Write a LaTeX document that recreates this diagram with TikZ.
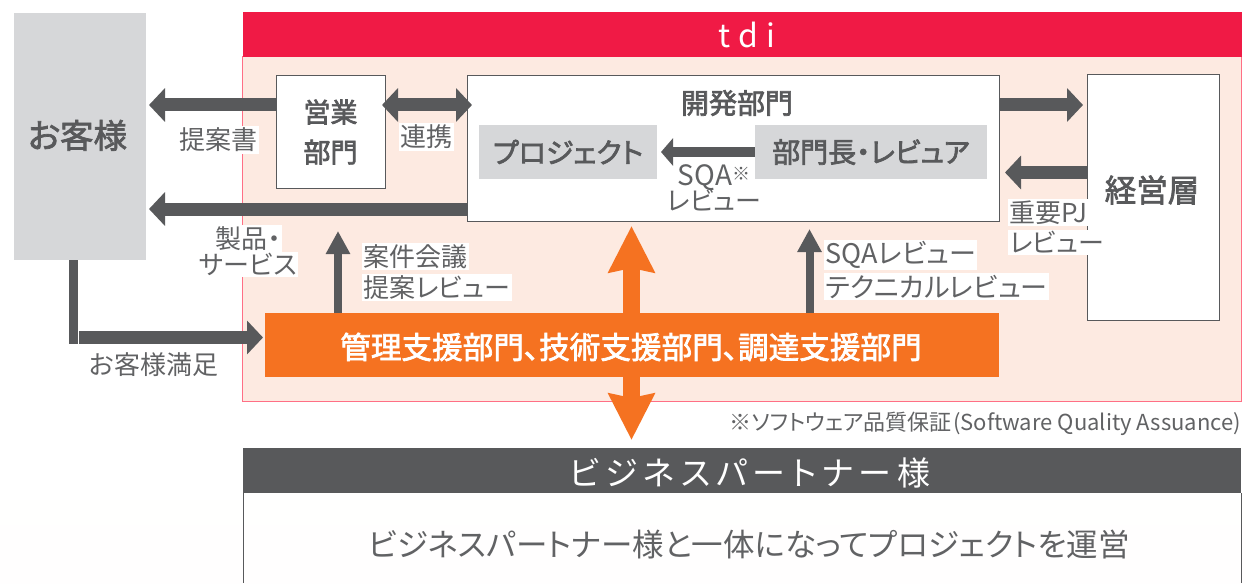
\documentclass[tikz,border=0pt]{standalone}
\usepackage{fontspec}
\usetikzlibrary{arrows.meta,calc}
\setmainfont{Noto Sans CJK JP}[RawFeature={+palt}]
\definecolor{dgray}{HTML}{58595B}
\definecolor{lblgray}{HTML}{616264}
\definecolor{lgray}{HTML}{D6D7D9}
\definecolor{tdired}{HTML}{F01A45}
\definecolor{panel}{HTML}{FDEAE1}
\definecolor{panelline}{HTML}{FF6F85}
\definecolor{orangebar}{HTML}{F57221}
\newcommand{\fs}[1]{\fontsize{#1}{#1}\selectfont}
\newcommand{\halo}[1]{{\setlength{\fboxsep}{1.5pt}\colorbox{white}{#1}}}
\newcommand{\med}[1]{\special{pdf:code q 2 Tr 0.7 w}#1\special{pdf:code 0 Tr Q}}
\tikzset{
  block/.style={rectangle,inner sep=0pt,outer sep=0pt,anchor=center},
  wbox/.style={block,draw=dgray,line width=1pt,fill=white},
  graybox/.style={block,fill=lgray},
  head/.style={text=dgray,font=\fs{27}},
  headb/.style={text=dgray,font=\fs{28}},
  lbl/.style={text=lblgray,font=\fs{26},inner sep=0pt,align=center},
  lblleft/.style={lbl,align=left,anchor=west},
  thick arrow/.style={draw=dgray,line width=13pt,-{Triangle[length=16pt,width=33pt]}},
  thick both/.style={draw=dgray,line width=13pt,{Triangle[length=16pt,width=33pt]}-{Triangle[length=16pt,width=33pt]}},
  thin arrow/.style={draw=dgray,line width=8pt,-{Triangle[length=23pt,width=23pt]}},
  mid arrow/.style={draw=dgray,line width=10pt,-{Triangle[length=12pt,width=27pt]}},
  orange arrow/.style={draw=orangebar,line width=17pt,-{Stealth[length=46pt,width=45pt,inset=4pt]}}
}
\begin{document}
\begin{tikzpicture}[x=1pt,y=-1pt]
\useasboundingbox (0,0) rectangle (1246,583);
% faint tint at the foot of the page
\shade[top color=white,bottom color=white!96!panel] (0,440) rectangle (1246,583);

% tdi panel
\node[block,draw=panelline,fill=panel,line width=1pt,minimum width=999pt,minimum height=345pt] (tdipanel) at (742,229) {};
\node[block,fill=tdired,minimum width=999pt,minimum height=45pt,text=white,font=\fs{32}\addfontfeature{LetterSpace=25}] (tdihead) at (742.5,34.5) {\hspace{9pt}\raisebox{-4pt}{tdi}};

% boxes
\node[block,fill=lgray,minimum width=132pt,minimum height=247pt,text=dgray,font=\fs{33.5}] (cust) at (80,136.5) {\hspace{-5pt}\raisebox{5pt}{\med{お客様}}};
\node[wbox,minimum width=109pt,minimum height=112pt,head,align=center] (eigyo) at (330.5,132) {\med{営業}\\[13pt]\med{部門}};
\node[wbox,minimum width=532pt,minimum height=145pt] (kaihatsu) at (733,148.5) {};
\node[headb] (kaihatsulabel) at (737,103) {\med{開発部門}};
\node[graybox,minimum width=178pt,minimum height=54pt,headb] (proj) at (568,152) {\med{プロジェクト}};
\node[graybox,minimum width=232pt,minimum height=54pt,headb] (bucho) at (871,152) {\med{部門長・レビュア}};
\node[wbox,minimum width=132pt,minimum height=245pt] (keiei) at (1153,197.5) {};
\node[text=dgray,font=\fs{31.5}] (keieilabel) at (1152,190) {\med{経営層}};

% free ends of connectors
\coordinate (custtipa) at (149,105);
\coordinate (custtipb) at (149,209);
\coordinate (reviewtipa) at (338,231);
\coordinate (reviewtipb) at (809.5,229);
\coordinate (orangetop) at (631.5,226);
\coordinate (orangebot) at (631.5,440);
\coordinate (satcorner) at (73.5,344);
\coordinate (satstart) at (79,337.5);

% connectors
\draw[thick arrow] ([yshift=27pt]eigyo.west) -- (custtipa);
\draw[thick arrow] (kaihatsu.west |- custtipb) -- (custtipb);
\draw[thick both] ([xshift=-3pt,yshift=27pt]eigyo.east) -- ([xshift=5pt]kaihatsu.west |- custtipa);
\draw[mid arrow] (bucho.west) -- ([xshift=4pt]proj.east);
\draw[thick arrow] (kaihatsu.east |- custtipa) -- ([xshift=-4pt]keiei.west |- custtipa);
\draw[thick arrow] (keiei.west |- 0,172.5) -- ([xshift=6pt]kaihatsu.east |- 0,172.5);
\draw[draw=dgray,line width=9pt] (cust.south -| satcorner) -- (satcorner);

% support bar
\node[block,fill=orangebar,minimum width=734pt,minimum height=64pt] (support) at (632,345) {};
\node[text=white,font=\fs{30.6},inner sep=0pt] (supportlabel) at (631,347) {\med{管理支援部門、技術支援部門、調達支援部門}};
\draw[thick arrow] (satstart) -- ([xshift=-2pt]support.west |- satstart);
\draw[thin arrow] (support.north -| reviewtipa) -- (reviewtipa);
\draw[thin arrow] (support.north -| reviewtipb) -- (reviewtipb);
\draw[orange arrow] (support.north -| orangetop) -- (orangetop);
\draw[orange arrow] (support.south -| orangebot) -- (orangebot);

% labels
\node[lbl] (lteian) at (218,140) {\halo{提案書}};
\node[lbl] (lrenkei) at (426,137) {\halo{連携}};
\node[lbl] (lsqa) at (714,188) {{\fs{28}SQA}{\fs{18}\raisebox{5pt}{※}}\\[-3pt]レビュー};
\node[lblleft,anchor=west] (ljuyo) at (1008,227) {\halo{重要PJ}\\[3pt]\halo{レビュー}};
\node[lbl] (lseihin) at (248,251) {\halo{製品・}\\[-1pt]\halo{サービス}};
\node[lblleft] (lanken) at (362,272) {\halo{案件会議}\\[3pt]\halo{提案レビュー}};
\node[lblleft,font=\fs{27}] (lsqar) at (824,270) {\halo{SQAレビュー}\\[2pt]\halo{テクニカルレビュー}};
\node[lbl] (lsat) at (154,365) {お客様満足};
\node[text=lblgray,font=\fs{22},inner sep=0pt,anchor=east] (lnote) at (1241,424) {※ソフトウェア品質保証\kern1.5pt(Software Quality Assuance)};

% business partner
\node[block,fill=dgray,minimum width=998pt,minimum height=45pt] (partnerhead) at (742,470.5) {};
\node[text=white,font=\fs{33}\addfontfeature{LetterSpace=17},inner sep=0pt] (partnerheadlabel) at (750,473) {ビジネスパートナー様};
\node[block,fill=white,fill opacity=.6,minimum width=998pt,minimum height=90pt] (partnerbody) at (742,538) {};
\node[text=lblgray,font=\fs{31.5},inner sep=0pt] (partnerbodylabel) at (749,545) {ビジネスパートナー様と一体になってプロジェクトを運営};
\draw[dgray,line width=1pt] (partnerbody.north west) -- (partnerbody.south west);
\draw[dgray,line width=1pt] (partnerbody.north east) -- (partnerbody.south east);
\end{tikzpicture}
\end{document}
